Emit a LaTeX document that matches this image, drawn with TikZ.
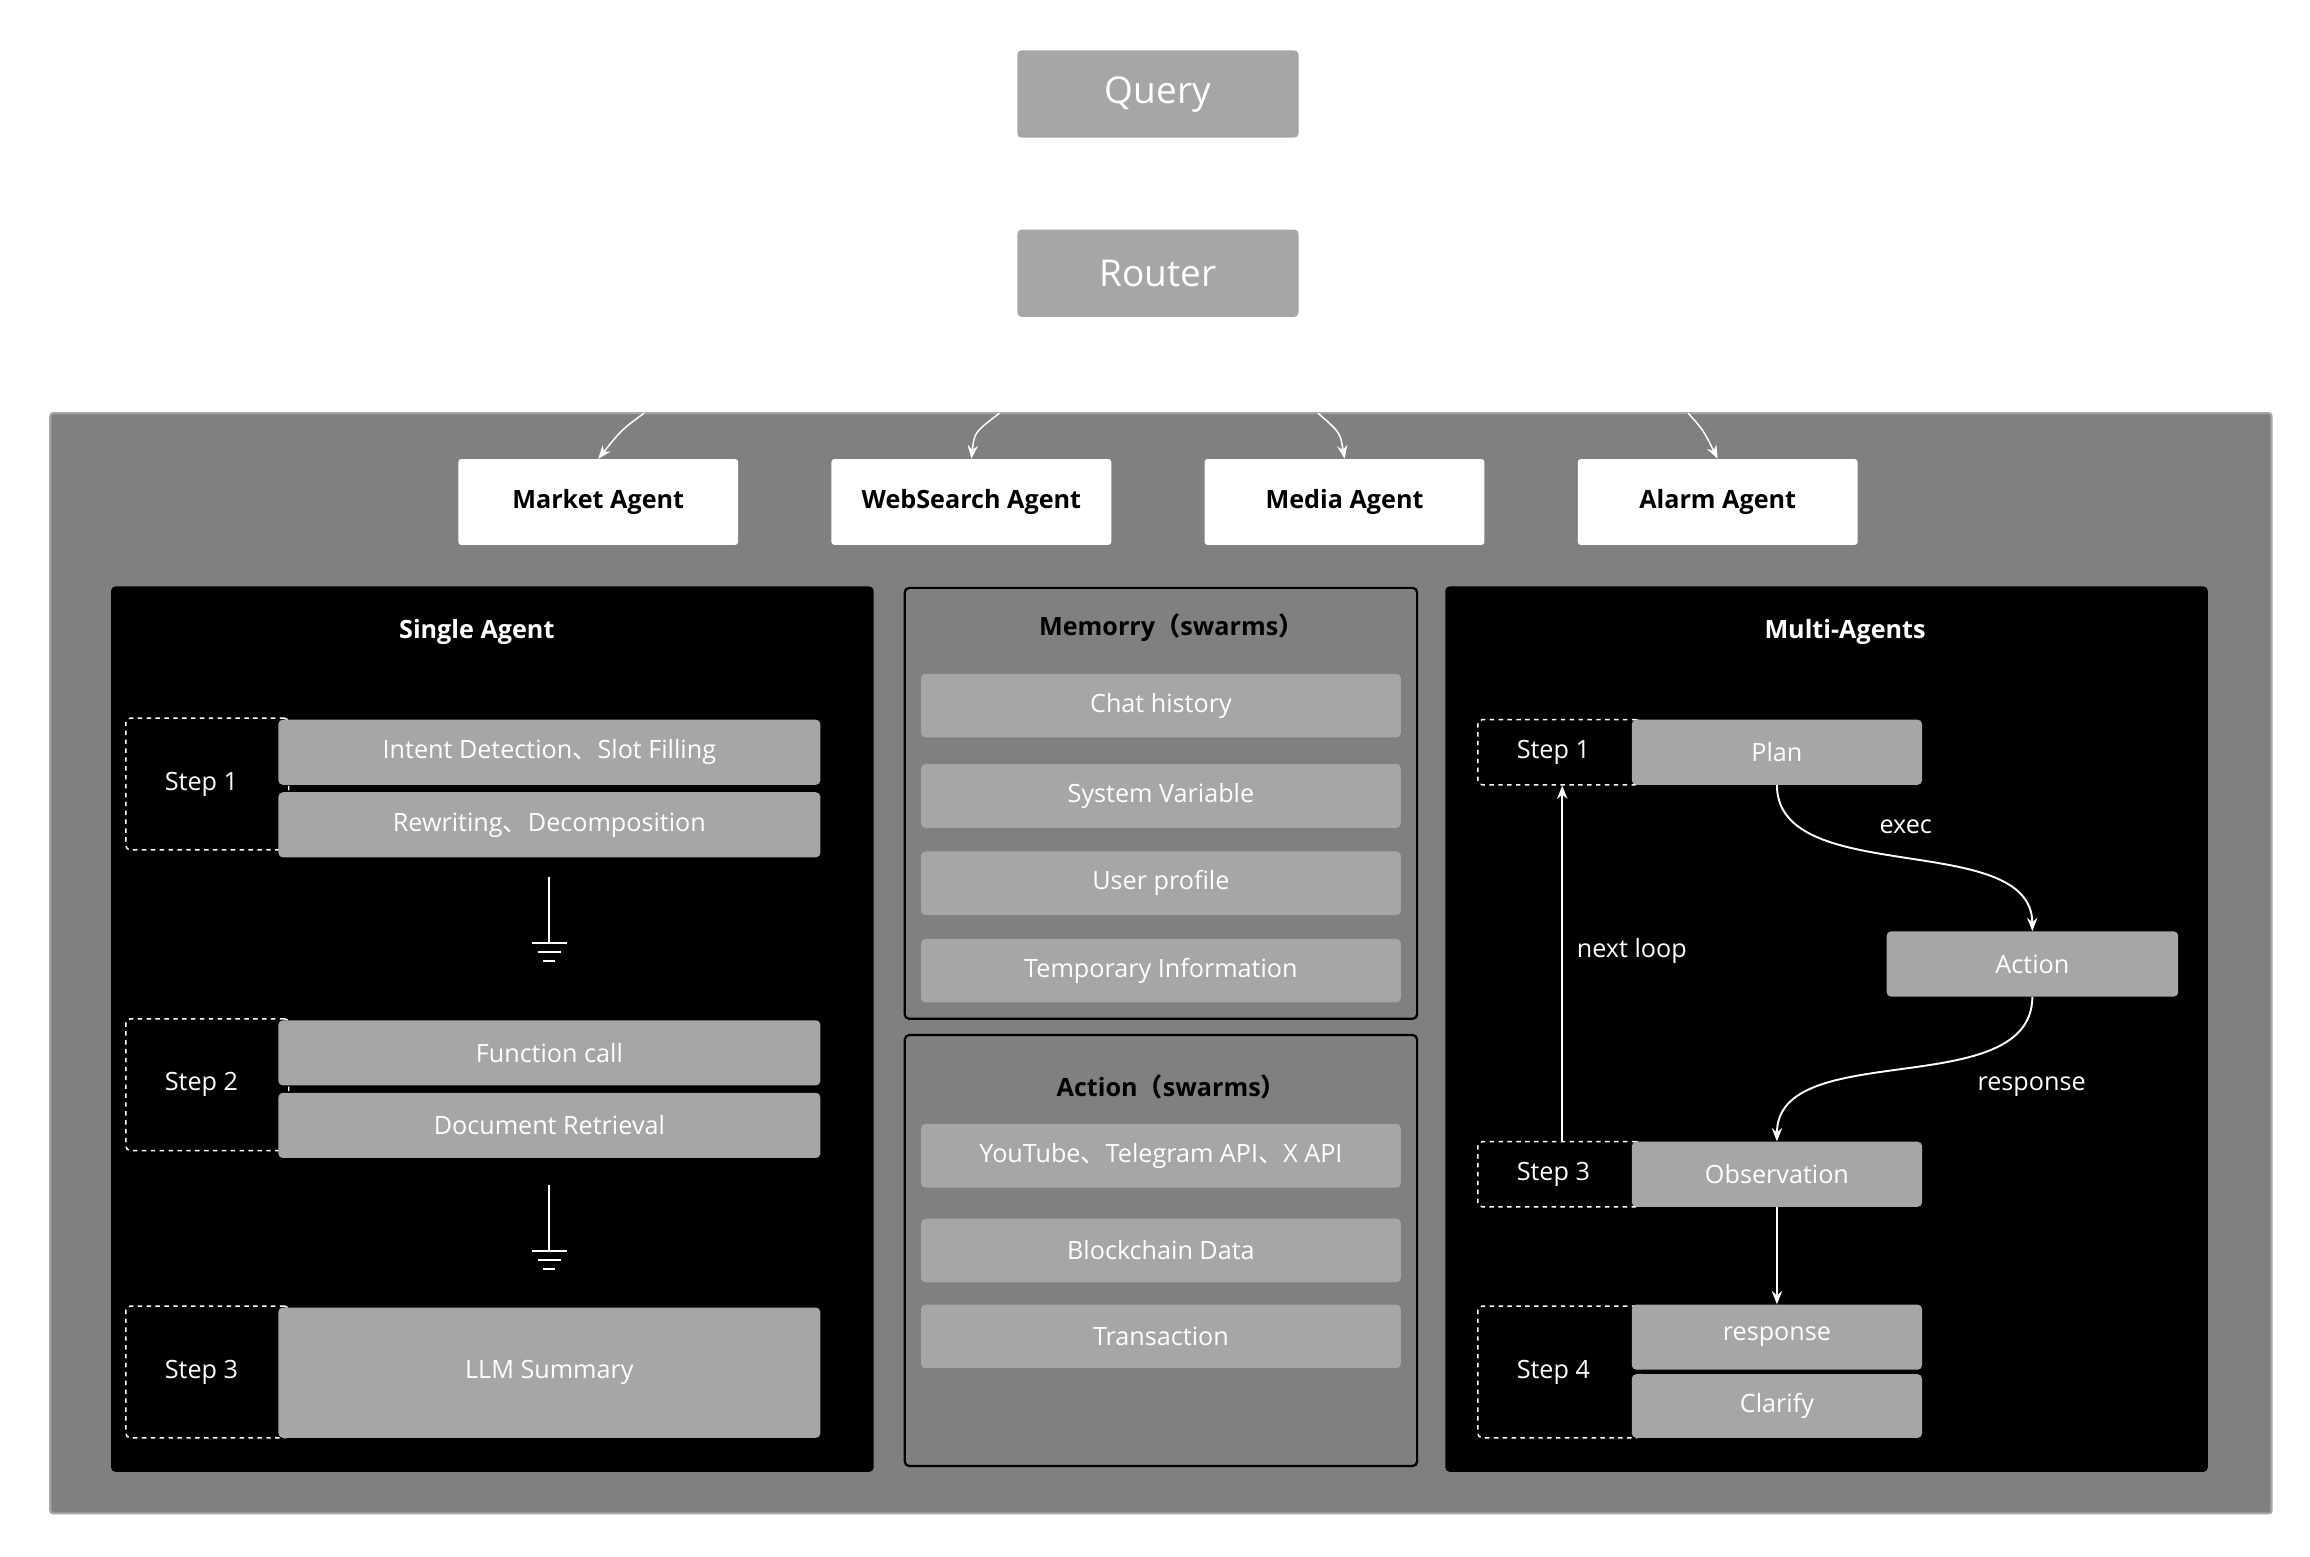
\documentclass[tikz,border=0pt]{standalone}
\usepackage{fontspec}
\setmainfont{Open Sans}
\newfontfamily\cjk{Noto Sans CJK SC}
\usetikzlibrary{arrows.meta}
\definecolor{boxgray}{HTML}{A6A6A6}
\definecolor{panelgray}{HTML}{808080}
\begin{document}
\begin{tikzpicture}[x=1pt,y=-1pt,
  box/.style={fill=boxgray,rounded corners=3pt,text=white,inner sep=0pt,font=\fontsize{17}{20}\selectfont},
  top/.style={box,minimum width=190,minimum height=59,font=\fontsize{25}{30}\selectfont},
  agent/.style={fill=white,rounded corners=2pt,minimum width=189,minimum height=58,inner sep=0pt,font=\fontsize{17}{20}\selectfont\bfseries},
  stepbox/.style={draw=white,dashed,line width=1pt,rounded corners=3pt,minimum width=110,inner sep=0pt,text=white,font=\fontsize{17}{20}\selectfont},
  title/.style={font=\fontsize{17}{20}\selectfont\bfseries},
  arr/.style={draw=white,line width=1.3pt,-{Stealth[length=9pt,width=7pt]}},
  lbl/.style={text=white,font=\fontsize{17}{20}\selectfont}]
\useasboundingbox (0,0) rectangle (1560,1051);
\fill[white] (0,0) rectangle (1560,1051);
\node[top] (query) at (782,63.5) {Query};
\node[top] (router) at (782,184.5) {Router};
\draw[fill=panelgray,draw=boxgray,line width=1.5pt,rounded corners=2pt] (34,279) rectangle (1534,1022);
\node[agent] (market) at (404,339) {Market Agent};
\node[agent] (web) at (656,339) {WebSearch Agent};
\node[agent] (media) at (908,339) {Media Agent};
\node[agent] (alarm) at (1160,339) {Alarm Agent};
\coordinate (c1) at (435,279);
\coordinate (c2) at (675,279);
\coordinate (c3) at (890,279);
\coordinate (c4) at (1140,279);
\draw[arr,line width=1pt] (c1) .. controls (420,290) .. (market.north);
\draw[arr,line width=1pt] (c2) .. controls (658,292) .. (web.north);
\draw[arr,line width=1pt] (c3) .. controls (905,292) .. (media.north);
\draw[arr,line width=1pt] (c4) .. controls (1150,290) .. (alarm.north);
% Single agent
\fill[black,rounded corners=3pt] (75,396) rectangle (590,994);
\node[title,text=white] (st) at (322,427) {Single Agent};
\node[stepbox,minimum height=89] (s1) at (140,529.5) {\hspace*{-4pt}Step 1\hspace*{4pt}};
\node[stepbox,minimum height=89] (s2) at (140,732.5) {\hspace*{-4pt}Step 2\hspace*{4pt}};
\node[stepbox,minimum height=89] (s3) at (140,926.5) {\hspace*{-4pt}Step 3\hspace*{4pt}};
\node[box,minimum width=366,minimum height=44] (id) at (371,508) {Intent Detection{\cjk 、}Slot Filling};
\node[box,minimum width=366,minimum height=44] (rw) at (371,557) {Rewriting{\cjk 、}Decomposition};
\node[box,minimum width=366,minimum height=44] (fc) at (371,711) {Function call};
\node[box,minimum width=366,minimum height=44] (dr) at (371,760) {Document Retrieval};
\node[box,minimum width=366,minimum height=88] (llm) at (371,927) {LLM Summary};
\foreach \y in {592,800}{
  \draw[white,line width=1.3pt] (371,\y) -- (371,\y+45)
    (359,\y+45) -- (383,\y+45) (363,\y+51) -- (379,\y+51) (367,\y+57) -- (375,\y+57);
}
% Memory
\draw[fill=panelgray,draw=black,line width=1.5pt,rounded corners=3pt] (611,397) rectangle (957,688);
\node[title] (mt) at (791,424) {Memorry{\cjk （}swarms{\cjk ）}};
\node[box,minimum width=324,minimum height=43] (m1) at (784,476.5) {Chat history};
\node[box,minimum width=324,minimum height=43] (m2) at (784,537.5) {System Variable};
\node[box,minimum width=324,minimum height=43] (m3) at (784,596.5) {User profile};
\node[box,minimum width=324,minimum height=43] (m4) at (784,655.5) {Temporary Information};
\draw[fill=panelgray,draw=black,line width=1.5pt,rounded corners=3pt] (611,699) rectangle (957,990);
\node[title] (at) at (791,734) {Action{\cjk （}swarms{\cjk ）}};
\node[box,minimum width=324,minimum height=43] (a1) at (784,780.5) {YouTube{\cjk 、}Telegram API{\cjk 、}X API};
\node[box,minimum width=324,minimum height=43] (a2) at (784,844.5) {Blockchain Data};
\node[box,minimum width=324,minimum height=43] (a3) at (784,902.5) {Transaction};
% Multi agents
\fill[black,rounded corners=3pt] (976,396) rectangle (1491,994);
\node[title,text=white] (mat) at (1246,427) {Multi-Agents};
\node[stepbox,minimum height=44] (t1) at (1053,508) {\hspace*{-4pt}Step 1\hspace*{4pt}};
\node[stepbox,minimum height=44] (t3) at (1053,793) {\hspace*{-4pt}Step 3\hspace*{4pt}};
\node[stepbox,minimum height=89] (t4) at (1053,926.5) {\hspace*{-4pt}Step 4\hspace*{4pt}};
\node[box,minimum width=196,minimum height=44] (plan) at (1200,508) {Plan};
\node[box,minimum width=197,minimum height=44] (act) at (1372.5,651) {Action};
\node[box,minimum width=196,minimum height=44] (obs) at (1200,793) {Observation};
\node[box,minimum width=196,minimum height=44] (resp) at (1200,903) {response};
\node[box,minimum width=196,minimum height=43] (clar) at (1200,949.5) {Clarify};
\draw[arr] (plan.south) .. controls (1200,600) and (1372,560) .. (act.north);
\draw[arr] (act.south) .. controls (1372,745) and (1200,700) .. (obs.north);
\draw[arr] (obs.south) -- (resp.north);
\draw[arr] ([xshift=2pt]t3.north) -- ([xshift=2pt]t1.south);
\node[lbl] (l1) at (1287,558) {exec};
\node[lbl] (l2) at (1372,734) {response};
\node[lbl] (l3) at (1102,642) {next loop};
\end{tikzpicture}
\end{document}
